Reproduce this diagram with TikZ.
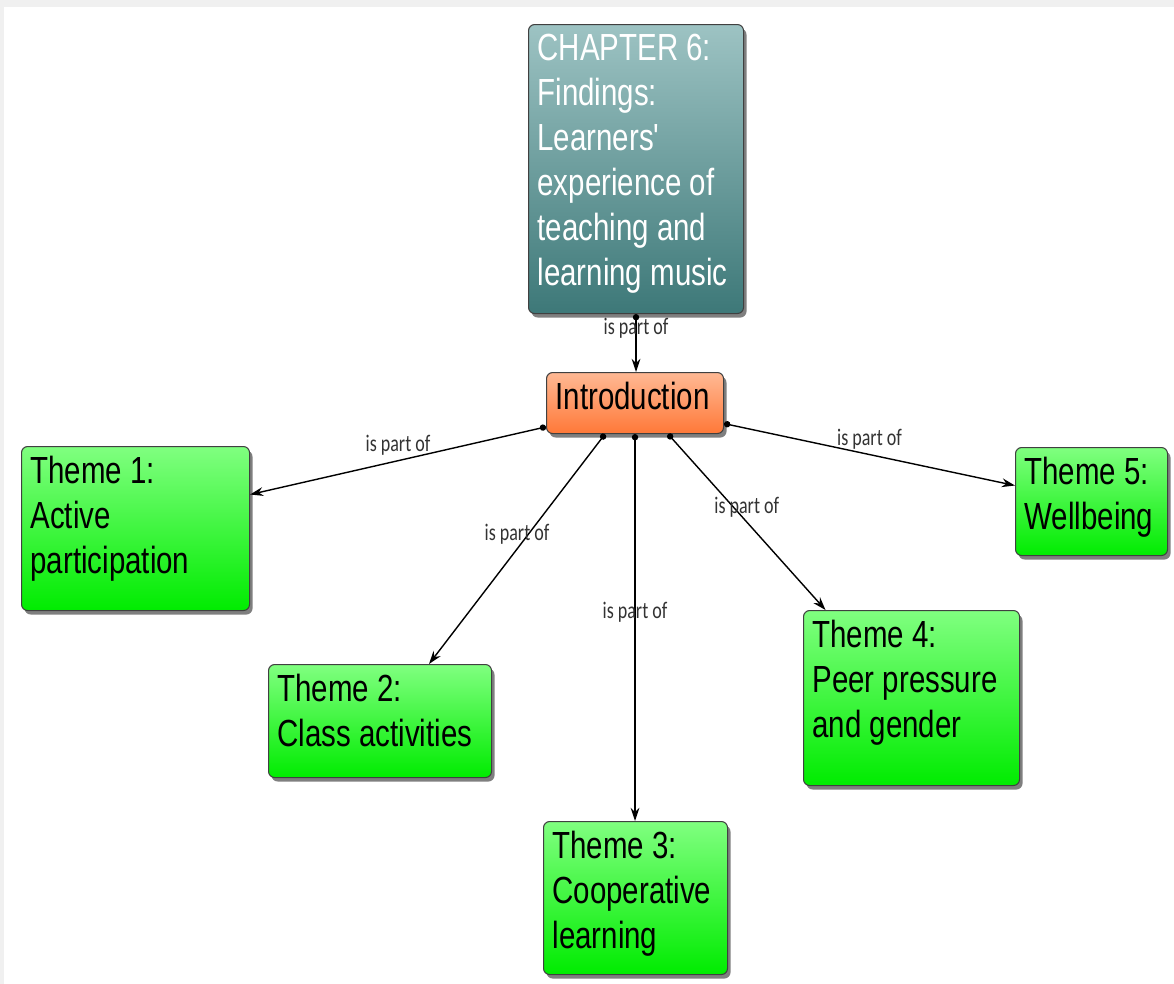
\documentclass[tikz,border=0pt]{standalone}
\usepackage{fontspec}
\setmainfont[FakeStretch=0.78]{Liberation Sans}
\newfontfamily\lblfont[FakeStretch=0.76]{Carlito}
\usetikzlibrary{arrows.meta,shadows}
\newlength\pix
\setlength\pix{0.02cm}
% box text: inner width, inner height, lines
\newcommand{\boxtext}[3]{\parbox[c][#2\pix][t]{#1\pix}{\raggedright #3}}
\definecolor{tealtop}{HTML}{9DC3C3}
\definecolor{tealbot}{HTML}{3D7878}
\definecolor{orangetop}{HTML}{FFB994}
\definecolor{orangebot}{HTML}{FF7838}
\definecolor{greentop}{HTML}{80FF80}
\definecolor{greenbot}{HTML}{00EC00}
\tikzset{
  conceptbox/.style={draw=black!75, line width=0.6pt, rounded corners=3.5pt,
    inner xsep=9\pix, inner ysep=10\pix, anchor=north west,
    font=\fontsize{21.5}{25.6}\selectfont,
    drop shadow={shadow xshift=3\pix, shadow yshift=-4\pix, opacity=0.5, fill=black}},
  chapterbox/.style={conceptbox, top color=tealtop, bottom color=tealbot, text=white},
  introbox/.style={conceptbox, top color=orangetop, bottom color=orangebot},
  themebox/.style={conceptbox, top color=greentop, bottom color=greenbot},
  link/.style={line width=0.8pt, {Circle[length=3.6pt]}-{Stealth[length=7.5pt, width=5pt]}},
  linklabel/.style={midway, yshift=15\pix, text=black!80,
    font=\lblfont\fontsize{13.5}{15}\selectfont}
}
\begin{document}
\begin{tikzpicture}[x=0.02cm, y=-0.02cm]
  % background
  \fill [black!6] (0,0) rectangle (1174,984);
  \fill [white] (4,7) rectangle (1174,984);
  \useasboundingbox (0,0) rectangle (1174,984);
  % concepts
  \node [chapterbox] (chap) at (528,24) {\boxtext{197}{269}{CHAPTER 6:\\Findings:\\Learners\textquotesingle\\experience~of\\teaching~and\\learning~music}};
  \node [introbox] (intro) at (546,372) {\boxtext{159}{41}{Introduction}};
  \node [themebox] (t1) at (21,446) {\boxtext{210}{144}{Theme 1:\\Active\\participation}};
  \node [themebox] (t2) at (268,664) {\boxtext{205}{93}{Theme 2:\\Class~activities}};
  \node [themebox] (t3) at (543,821) {\boxtext{166}{133}{Theme 3:\\Cooperative\\learning}};
  \node [themebox] (t4) at (803,610) {\boxtext{198}{155}{Theme 4:\\Peer~pressure\\and~gender}};
  \node [themebox] (t5) at (1015,447) {\boxtext{134}{88}{Theme 5:\\Wellbeing}};
  % links
  \draw [link] (chap.south) -- (chap.south |- intro.north) node [linklabel] {is part of};
  \draw [link] (intro.195) -- ([yshift=34\pix]t1.east) node [linklabel] {is part of};
  \draw [link] ([xshift=-30\pix]intro.south) -- ([xshift=49\pix]t2.north) node [linklabel] {is part of};
  \draw [link] (intro.south) -- (intro.south |- t3.north) node [linklabel] {is part of};
  \draw [link] ([xshift=33\pix]intro.south) -- ([xshift=-86\pix]t4.north) node [linklabel] {is part of};
  \draw [link] (intro.-13) -- ([yshift=16\pix]t5.west) node [linklabel] {is part of};
\end{tikzpicture}
\end{document}
